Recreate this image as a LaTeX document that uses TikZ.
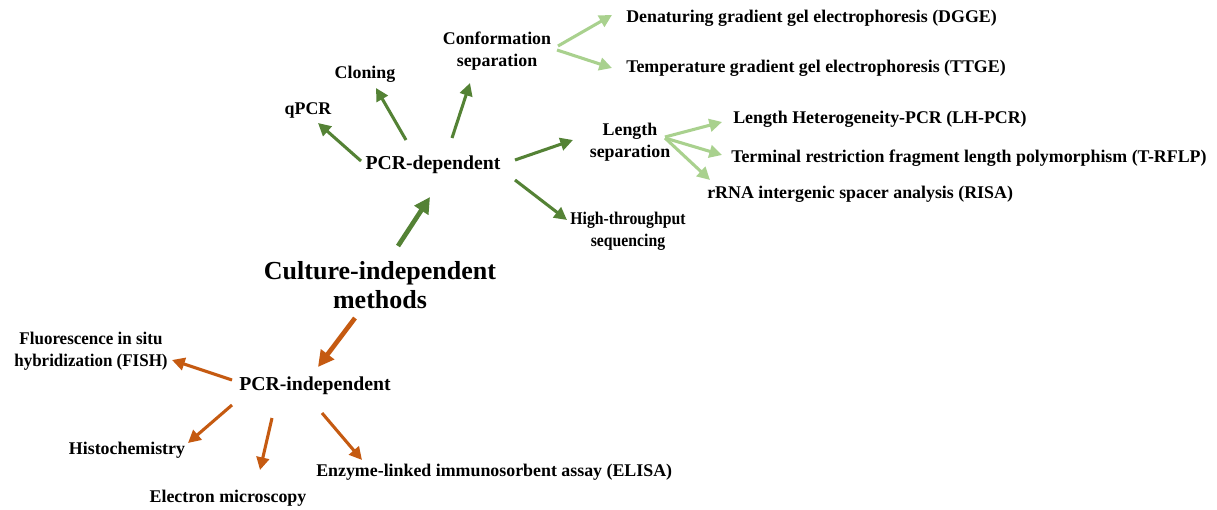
\documentclass[tikz,border=0pt]{standalone}
\usepackage{fontspec}
\setmainfont{Liberation Serif}
\usetikzlibrary{arrows.meta,calc}
\definecolor{dgreen}{HTML}{548235}
\definecolor{lgreen}{HTML}{A9D18E}
\definecolor{orng}{HTML}{C55A11}
\begin{document}
\begin{tikzpicture}[x=0.75pt,y=-0.75pt,
  lbl/.style={inner sep=0pt,font=\fontsize{13.4}{16.5}\selectfont\bfseries,align=center},
  mid/.style={inner sep=0pt,font=\fontsize{14.8}{18}\selectfont\bfseries,align=center},
  big/.style={inner sep=0pt,font=\fontsize{19.5}{21.75}\selectfont\bfseries,align=center},
  arr/.style={line width=2.3pt,-{Triangle[length=9.5pt,width=9.5pt]}},
  arrbig/.style={line width=3.5pt,-{Triangle[length=12pt,width=12pt]}},
  dg/.style={arr,draw=dgreen,fill=dgreen},
  lg/.style={arr,draw=lgreen,fill=lgreen},
  og/.style={arr,draw=orng,fill=orng}]
\useasboundingbox (0,0) rectangle (1217,510);
\fill[white] (0,0) rectangle (1217,510);
% nodes
\node[big] (cim) at (380,285) {Culture-independent\\methods};
\node[mid] (pcrd) at (433,165) {PCR-dependent};
\node[mid] (pcri) at (315,386) {PCR-independent};
\node[lbl] (qpcr) at (308,110) {qPCR};
\node[lbl] (clon) at (365,74) {Cloning};
\node[lbl] (conf) at (497,51) {Conformation\\separation};
\node[lbl,anchor=west] (dgge) at (626,18) {Denaturing gradient gel electrophoresis (DGGE)};
\node[lbl,anchor=west] (ttge) at (626,68) {Temperature gradient gel electrophoresis (TTGE)};
\node[lbl] (len) at (630,142) {Length\\separation};
\node[lbl,anchor=west] (lh) at (733,119) {Length Heterogeneity-PCR (LH-PCR)};
\node[lbl,anchor=west] (trflp) at (731,158) {Terminal restriction fragment length polymorphism\ (T-RFLP)};
\node[lbl,anchor=west] (risa) at (707,194) {rRNA intergenic spacer analysis (RISA)};
\node[lbl,xscale=0.88,transform shape] (hts) at (628,231) {High-throughput\\sequencing};
\node[lbl,xscale=0.95,transform shape] (fish) at (91,351) {Fluorescence in situ\\hybridization (FISH)};
\node[lbl] (hist) at (127,450) {Histochemistry};
\node[lbl] (em) at (228,498) {Electron microscopy};
\node[lbl,anchor=west] (elisa) at (316,472) {Enzyme-linked immunosorbent assay (ELISA)};
% arrows
\draw[dg,arrbig] ($(cim)+(18,-39)$) -- ($(pcrd)+(-3,32)$);
\draw[dg] ($(pcrd)+(-72,-4)$) -- ($(qpcr)+(10,13)$);
\draw[dg] ($(pcrd)+(-27,-25)$) -- ($(clon)+(11,14)$);
\draw[dg] ($(pcrd)+(19,-27)$) -- ($(conf)+(-27,32)$);
\draw[dg] ($(pcrd)+(82,-5)$) -- ($(len)+(-57,-2)$);
\draw[dg] ($(pcrd)+(82,15)$) -- ($(hts)+(-61,-11)$);
\draw[lg] ($(conf)+(61,-5)$) -- ($(dgge.west)+(-14,-3)$);
\draw[lg] ($(conf)+(60,-1)$) -- ($(ttge.west)+(-14,0)$);
\draw[lg] ($(len)+(35,-5)$) -- ($(lh.west)+(-11,3)$);
\draw[lg] ($(len)+(35,-4)$) -- ($(trflp.west)+(-9,-3)$);
\draw[lg] ($(len)+(35,-4)$) -- ($(risa.west)+(3,-14)$);
\draw[og,arrbig] ($(cim)+(-25,33)$) -- ($(pcri)+(3,-19)$);
\draw[og] ($(pcri)+(-83,-6)$) -- ($(fish)+(81,9)$);
\draw[og] ($(pcri)+(-83,19)$) -- ($(hist)+(61,-7)$);
\draw[og] ($(pcri)+(-43,32)$) -- ($(em)+(32,-28)$);
\draw[og] ($(pcri)+(7,27)$) -- ($(elisa.west)+(46,-12)$);
\end{tikzpicture}
\end{document}
